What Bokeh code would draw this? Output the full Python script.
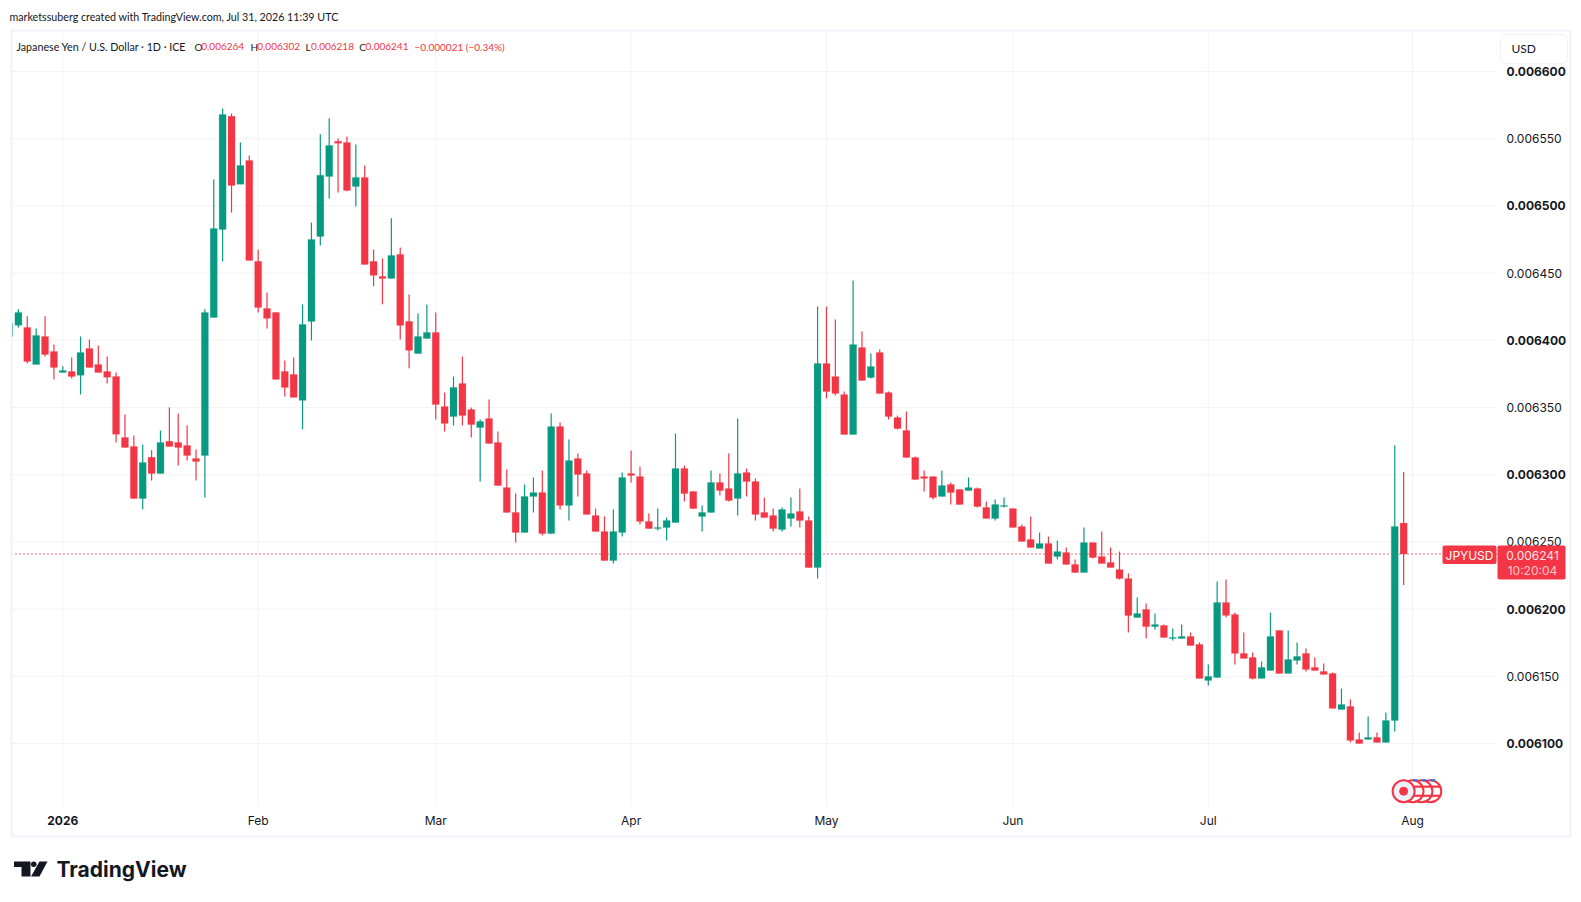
from bokeh.plotting import figure
from bokeh.embed import file_html
from bokeh.resources import INLINE
from bokeh.models import (LinearAxis, FixedTicker, Range1d, Label,
                          BoxAnnotation, PolyAnnotation, ColumnDataSource)

sessions = list(range(-6, 152))
opens = [
 6402.9,6411.1,6409.6,6382.0,6402.9,6391.7,6376.1,6376.8,6373.9,6393.9,
 6382.0,6376.8,6373.1,6327.7,6321.0,6282.3,6312.9,6300.9,6324.8,6324.0,
 6321.8,6312.1,6314.3,6417.0,6482.5,6566.6,6516.0,6533.8,6458.7,6423.7,
 6420.7,6376.8,6374.6,6355.3,6414.0,6477.3,6521.9,6548.0,6547.2,6514.5,
 6521.2,6458.7,6447.5,6446.0,6463.9,6414.0,6390.1,6401.3,6405.8,6350.7,
 6343.3,6367.8,6348.5,6335.1,6341.8,6323.9,6290.4,6271.9,6257.0,6283.8,
 6286.7,6256.2,6335.8,6277.1,6312.0,6300.9,6269.6,6257.7,6236.1,6257.0,
 6300.9,6298.6,6265.2,6259.9,6260.7,6264.4,6304.6,6287.5,6268.9,6271.9,
 6294.2,6289.7,6282.3,6301.6,6294.9,6271.9,6269.6,6259.2,6267.4,6272.6,
 6265.9,6230.9,6382.7,6373.0,6359.6,6329.9,6394.6,6372.3,6390.9,6361.1,
 6342.5,6332.9,6312.8,6298.6,6298.6,6283.8,6292.7,6289.0,6288.2,6289.7,
 6275.6,6267.4,6276.3,6274.8,6261.4,6251.8,6245.1,6248.8,6239.1,6242.1,
 6233.2,6227.2,6249.5,6239.1,6234.7,6229.4,6222.7,6193.7,6199.7,6187.0,
 6187.8,6178.1,6178.1,6179.6,6173.7,6146.9,6149.1,6204.9,6196.0,6167.0,
 6164.0,6148.4,6154.3,6184.1,6152.1,6161.8,6167.0,6156.6,6153.6,6152.1,
 6125.3,6127.6,6103.0,6103.0,6104.5,6100.8,6117.1,6264.0]
highs = [
 6418.0,6423.0,6417.8,6408.8,6417.8,6396.9,6380.6,6387.2,6402.9,6400.6,
 6396.2,6387.9,6376.1,6344.8,6329.2,6322.5,6318.1,6332.9,6350.0,6345.6,
 6336.7,6318.8,6423.0,6519.7,6572.5,6568.8,6547.2,6537.5,6467.6,6435.6,
 6420.7,6385.0,6387.2,6426.7,6487.7,6553.2,6565.1,6550.2,6551.7,6545.7,
 6530.1,6467.6,6460.9,6490.7,6469.1,6434.1,6419.9,6426.6,6420.7,6361.1,
 6373.0,6387.9,6350.0,6341.0,6355.9,6332.1,6303.8,6286.0,6292.7,6297.9,
 6303.1,6345.5,6338.8,6326.2,6315.8,6303.1,6274.8,6268.9,6274.1,6301.6,
 6318.0,6306.1,6271.1,6274.8,6268.1,6330.6,6306.8,6287.5,6277.1,6303.1,
 6300.9,6315.8,6341.8,6304.6,6297.2,6283.0,6274.8,6275.6,6283.0,6289.7,
 6268.9,6425.1,6425.1,6415.4,6361.9,6444.5,6406.5,6390.1,6393.1,6361.9,
 6344.0,6347.0,6313.5,6303.1,6298.6,6303.1,6294.2,6289.0,6297.9,6290.4,
 6280.0,6281.5,6283.0,6274.8,6262.9,6268.9,6257.0,6254.0,6251.0,6245.8,
 6236.9,6260.7,6249.5,6257.7,6245.8,6242.8,6226.5,6208.6,6204.1,6196.7,
 6188.5,6185.6,6188.5,6182.6,6175.2,6158.8,6220.6,6222.0,6197.5,6182.6,
 6167.7,6161.0,6197.5,6184.1,6184.1,6175.2,6170.7,6164.0,6159.6,6152.9,
 6140.9,6132.8,6108.2,6120.1,6108.2,6123.1,6321.7,6302.0]
lows = [
 6399.0,6409.6,6382.8,6382.0,6387.9,6370.9,6376.1,6371.6,6359.7,6379.8,
 6376.1,6367.9,6324.0,6320.3,6282.3,6274.2,6295.7,6300.9,6321.0,6306.9,
 6310.6,6295.7,6283.1,6417.0,6458.7,6495.1,6516.0,6459.4,6420.7,6408.8,
 6370.9,6358.2,6357.5,6333.7,6399.9,6470.6,6505.5,6510.0,6510.8,6499.6,
 6456.4,6440.1,6426.7,6446.0,6400.6,6379.1,6390.1,6401.3,6341.0,6332.1,
 6336.6,6336.6,6327.6,6294.9,6323.2,6291.9,6271.9,6249.5,6257.0,6271.9,
 6254.7,6256.2,6274.1,6265.9,6283.8,6270.4,6257.7,6236.1,6233.9,6254.0,
 6294.2,6262.9,6259.9,6258.5,6251.0,6264.4,6280.0,6274.8,6257.7,6271.9,
 6284.5,6280.0,6269.6,6283.8,6265.9,6268.1,6257.7,6257.7,6261.4,6260.7,
 6230.9,6222.7,6356.7,6358.9,6329.9,6329.9,6370.1,6371.5,6360.4,6341.0,
 6333.6,6312.8,6296.4,6287.5,6281.5,6283.8,6277.8,6277.8,6288.2,6275.6,
 6267.4,6265.9,6275.6,6260.7,6250.3,6245.8,6245.1,6233.9,6236.9,6233.2,
 6227.2,6227.2,6237.6,6233.9,6230.9,6222.0,6182.6,6193.7,6178.1,6184.8,
 6178.9,6176.6,6178.1,6172.9,6148.4,6143.2,6149.1,6193.8,6158.8,6163.3,
 6147.6,6148.4,6154.3,6152.1,6152.1,6158.8,6153.6,6154.3,6151.4,6126.1,
 6125.3,6100.8,6100.0,6103.0,6100.8,6100.8,6109.0,6218.0]
closes = [
 6412.5,6420.7,6384.3,6403.6,6389.5,6379.8,6377.6,6373.1,6391.0,6379.8,
 6376.1,6372.4,6330.0,6320.3,6282.3,6309.1,6300.9,6324.0,6321.0,6320.3,
 6314.3,6309.9,6420.7,6483.2,6568.0,6515.2,6530.1,6459.4,6424.4,6416.3,
 6370.9,6364.9,6357.5,6411.8,6475.0,6522.7,6545.0,6546.5,6511.5,6521.2,
 6456.4,6448.3,6446.0,6463.1,6411.1,6392.5,6402.8,6405.8,6352.2,6338.1,
 6364.9,6344.0,6337.3,6339.6,6323.2,6291.9,6271.9,6257.0,6283.8,6286.7,
 6256.2,6335.8,6277.1,6310.5,6300.1,6270.4,6257.7,6236.1,6257.7,6297.9,
 6299.4,6265.2,6259.9,6260.7,6265.9,6304.6,6286.0,6274.8,6271.9,6294.2,
 6288.2,6280.8,6300.9,6294.9,6270.4,6268.1,6259.9,6274.1,6271.1,6265.9,
 6230.9,6382.7,6361.9,6360.4,6329.9,6396.8,6370.1,6380.5,6360.4,6343.3,
 6334.3,6312.8,6296.4,6297.2,6283.0,6291.9,6286.7,6277.8,6290.4,6276.3,
 6267.4,6277.8,6277.1,6260.7,6250.3,6245.8,6248.8,6233.9,6242.8,6233.2,
 6227.2,6249.5,6238.4,6233.9,6230.9,6222.7,6195.2,6196.7,6187.0,6188.5,
 6178.9,6178.9,6179.6,6172.9,6148.4,6149.9,6204.9,6195.3,6167.0,6163.3,
 6148.4,6156.6,6179.6,6152.1,6162.5,6164.8,6155.1,6154.3,6151.4,6126.1,
 6129.0,6102.3,6100.0,6104.5,6100.8,6117.1,6261.5,6241.0]

last_price = 6241
major_prices = [6600, 6500, 6400, 6300, 6200, 6100]
minor_prices = [6550, 6450, 6350, 6250, 6150]
month_ticks = [22, 42, 64, 86, 107, 129, 152]
month_names = ["Feb", "Mar", "Apr", "May", "Jun", "Jul", "Aug"]
year_tick = 0
year_name = "2026"
event_sessions = [154, 153, 152]
front_event_session = 151
event_level = 6064.5

UP, DOWN = "#089981", "#F23645"
BORDER = "#F0F3FA"
GRID = "#F2F3F5"
INK = "#131722"
SANS = "Inter"
HEAD = "Lato"
# visible pane limits on the scales (the figure's frame fills the page)
x0, x1 = -5.777, 161.45
y0, y1 = 6053.8, 6629.8

p = figure(width=1581, height=902, output_backend="svg", toolbar_location=None,
           x_axis_location=None, y_axis_location=None,
           x_range=Range1d(-7.016, 171.03), y_range=Range1d(5981.7, 6652.8),
           min_border_left=0, min_border_top=0, min_border_right=0, min_border_bottom=0,
           background_fill_color="white", border_fill_color="white", outline_line_color=None)
p.xgrid.visible = False
p.ygrid.visible = False

all_prices = major_prices + minor_prices
all_times = [year_tick] + month_ticks
p.segment([x0] * len(all_prices), all_prices, [x1] * len(all_prices), all_prices, line_color=GRID, line_width=1)
p.segment(all_times, [y0] * len(all_times), all_times, [y1] * len(all_times), line_color=GRID, line_width=1)


def axis(ticks, labels, style, standoff, at):
    return LinearAxis(ticker=FixedTicker(ticks=ticks), fixed_location=at,
                      major_label_overrides=dict(zip(ticks, labels)),
                      major_label_text_font=SANS, major_label_text_font_size="12px",
                      major_label_text_font_style=style, major_label_text_color=INK,
                      major_label_standoff=standoff, axis_line_color=None,
                      major_tick_line_color=None, minor_tick_line_color=None,
                      major_tick_in=0, major_tick_out=0, minor_tick_in=0, minor_tick_out=0)


fmt = lambda v: f"0.00{v}"
p.add_layout(axis(major_prices, [fmt(v) for v in major_prices], "bold", 10, x1), "right")
p.add_layout(axis(minor_prices, [fmt(v) for v in minor_prices], "normal", 10, x1), "right")
p.add_layout(axis([year_tick], [year_name], "bold", 10, y0), "below")
p.add_layout(axis(month_ticks, month_names, "normal", 7, y0), "below")

colors = [UP if c >= o else DOWN for o, c in zip(opens, closes)]
src = ColumnDataSource(dict(x=sessions, o=opens, h=highs, l=lows, c=closes, color=colors))
p.line([x0, x1], [last_price, last_price], line_color=DOWN, line_width=1.3, line_dash="1 3")
p.segment("x", "h", "x", "l", source=src, line_color="color", line_width=1.2)
p.vbar("x", top="o", bottom="c", width=0.79, source=src, fill_color="color", line_color="color", line_width=0.2)

dh = 3.4
for e in event_sessions:
    p.scatter([e], [event_level], size=22, fill_color="white", line_color=DOWN, line_width=2)
    p.scatter([e + 0.35], [event_level + dh], marker="dash", size=15, line_color=DOWN, line_width=2.2)
    p.scatter([e + 0.35], [event_level - dh], marker="dash", size=15, line_color=DOWN, line_width=2.2)
    p.scatter([e + 0.3], [event_level + 2.4 * dh], marker="dash", size=5, line_color="#3B6FD4", line_width=2)
p.scatter([front_event_session], [event_level], size=22, fill_color="#EEF1FB", line_color=DOWN, line_width=2)
p.scatter([front_event_session], [event_level], size=8, fill_color=DOWN, line_color=DOWN)


def box(l, t, r, b, fill=None, line=None, width=1, radius=0):
    p.add_layout(BoxAnnotation(left=l, right=r, top=t, bottom=b,
                               left_units="canvas", right_units="canvas", top_units="canvas", bottom_units="canvas",
                               fill_color=fill, fill_alpha=1 if fill else 0, line_color=line, line_alpha=1 if line else 0,
                               line_width=width, border_radius=radius))


def text(x, y, s, color=INK, size="10.7px", font=HEAD, style="normal", align="left"):
    p.add_layout(Label(x=x, y=y, text=s, x_units="canvas", y_units="canvas", text_color=color,
                       text_font_size=size, text_font=font, text_font_style=style,
                       text_align=align, text_baseline="middle"))


box(0, 30, 11, 836, fill="white")
box(11, 30, 1570, 836, line=BORDER, width=2)
text(9, 15.5, "marketssuberg created with TradingView.com, Jul 31, 2026 11:39 UTC")
text(16, 46, "Japanese Yen / U.S. Dollar · 1D · ICE")
for x, s, col in [(194, "O", INK), (200.7, "0.006264", DOWN), (250, "H", INK), (256.7, "0.006302", DOWN),
                  (305, "L", INK), (310.5, "0.006218", DOWN), (358.7, "C", INK), (365, "0.006241", DOWN)]:
    text(x, 46, s, color=col, size="10px")
text(414, 46, "−0.000021 (−0.34%)", color=DOWN, size="10px")
text(56, 869, "TradingView", color="#131722", size="21px", font=SANS, style="bold")
for xs, ys in [([13.5, 30, 30, 21, 21, 13.5], [861, 861, 876, 876, 866.5, 866.5]),
               ([39, 47, 39, 30.5], [861, 861, 876, 876])]:
    p.add_layout(PolyAnnotation(xs=xs, ys=ys, xs_units="canvas", ys_units="canvas",
                                fill_color="#131722", fill_alpha=1, line_color=None))
box(30.5, 861, 36, 866.5, fill="#131722", radius=3)
box(1500, 34, 1567, 63, fill="white", line=BORDER, width=1, radius=5)
text(1511, 48, "USD", size="12px")
box(1442, 545, 1496, 563.5, fill=DOWN, radius=2)
box(1497, 545, 1565, 579, fill=DOWN, radius=2)
text(1469, 554.5, "JPYUSD", color="white", size="12px", font=SANS, align="center")
text(1532, 554.5, "0.006241", color="#FFE3E5", size="12px", font=SANS, align="center")
text(1532, 570, "10:20:04", color="#FFC4C8", size="12px", font=SANS, align="center")

open("out.html", "w").write(file_html(p, INLINE))
